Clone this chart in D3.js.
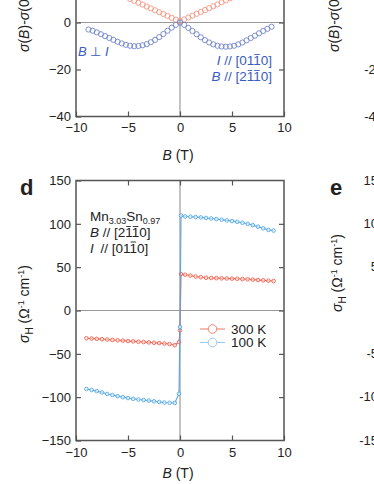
<!DOCTYPE html>
<html>
<head>
<meta charset="utf-8">
<title>Mn3Sn magnetoconductivity and Hall</title>
<script src="https://d3js.org/d3.v7.min.js"></script>
<style>
  body { margin: 0; background: #fff; }
  svg { display: block; font-family: "Liberation Sans", Arial, sans-serif; }
  .axis text { font-size: 13px; fill: #222; }
  .axis line { stroke: #555; stroke-width: 1.2; }
  .axis path { display: none; }
</style>
</head>
<body>
<svg id="chart" width="374" height="484"></svg>
<script>
// ---- panel c (only the lower part is in view): sigma(B)-sigma(0)
const magB = [-8.8,-8.4,-8.0,-7.6,-7.2,-6.8,-6.4,-6.0,-5.6,-5.2,-4.8,-4.4,-4.0,-3.6,-3.2,-2.8,-2.4,-2.0,-1.6,-1.2,-0.8,-0.4,
              0,0.4,0.8,1.2,1.6,2.0,2.4,2.8,3.2,3.6,4.0,4.4,4.8,5.2,5.6,6.0,6.4,6.8,7.2,7.6,8.0,8.4,8.8];
const magPar = [18.5,17.7,16.8,16.0,15.1,14.3,13.4,12.6,11.7,10.9,10.0,9.2,8.4,7.6,6.8,6.0,5.2,4.4,3.6,2.8,2.0,1.2,
                0.6,1.3,2.1,2.9,3.7,4.5,5.3,6.1,6.9,7.7,8.6,9.4,10.3,11.1,12.0,12.8,13.7,14.5,15.4,16.2,17.1,17.9,18.8];
const magPerp = [-3.0,-3.5,-4.2,-5.0,-5.8,-6.6,-7.4,-8.2,-8.9,-9.5,-9.9,-10.1,-10.0,-9.7,-9.2,-8.4,-7.4,-6.2,-4.9,-3.5,-2.2,-1.0,
                 0.0,-1.0,-2.3,-3.6,-5.0,-6.3,-7.5,-8.5,-9.3,-9.9,-10.2,-10.3,-10.2,-9.9,-9.3,-8.5,-7.6,-6.6,-5.6,-4.6,-3.6,-2.7,-1.8];

// ---- panel d: Hall conductivity
const hallB = [-9,-8.5,-8,-7.5,-7,-6.5,-6,-5.5,-5,-4.5,-4,-3.5,-3,-2.5,-2,-1.5,-1,-0.5,-0.1,0,
               0.1,0.5,1,1.5,2,2.5,3,3.5,4,4.5,5,5.5,6,6.5,7,7.5,8,8.5,9];
const hall300 = [-32.0,-32.3,-32.7,-33.1,-33.5,-34.0,-34.4,-34.8,-35.2,-35.6,-36.0,-36.4,-36.8,-37.2,-37.6,-38.1,-38.7,-40.0,-36.5,-23,
                 42,41.3,40.3,39.2,38.4,37.8,37.5,37.3,37.1,37.0,36.8,36.6,36.3,36.0,35.6,35.2,34.8,34.4,34.0];
const hall100 = [-90.5,-91.7,-93.0,-94.6,-96.3,-97.5,-98.8,-100.0,-101.0,-101.9,-102.7,-103.3,-104.0,-104.8,-105.5,-106.2,-106.5,-106.7,-96,-19,
                 109.5,108.5,108.2,107.9,107.4,106.8,106.2,105.5,104.8,104.0,103.2,102.3,101.2,100.0,98.5,96.7,94.8,93.0,92.2];
const hallNames = ['300 K', '100 K'];

const bTicks = [-10, -5, 0, 5, 10];
const magTicks = [-40, -20, 0, 20, 40];
const hallTicks = [-150, -100, -50, 0, 50, 100, 150];
const eTicks = [15, 10, 5, -5, -10, -15];
const cRightTicks = [0, -20, -40];

const svg = d3.select('#chart');
const frameColor = '#555';
const zeroColor = '#9a9a9a';
const red = '#f2604c', blue = '#55a8e4';
const redC = '#f59682', blueC = '#7285cc';
const textBlue = '#3a5cc0';

const x = d3.scaleLinear().domain([-10, 10]).range([76, 284]);
const yMag = d3.scaleLinear().domain([-40, 40]).range([116.5, -71.5]);
const yHall = d3.scaleLinear().domain([-150, 150]).range([440.5, 180.5]);

function panel(y, yt, xPad) {
  const g = svg.append('g');
  const [y0, y1] = y.range();
  // zero lines
  g.append('line').attr('x1', x(0)).attr('x2', x(0)).attr('y1', y0).attr('y2', y1)
    .attr('stroke', zeroColor).attr('stroke-width', 1.2);
  g.append('line').attr('x1', 76).attr('x2', 284).attr('y1', y(0)).attr('y2', y(0))
    .attr('stroke', zeroColor).attr('stroke-width', 1.2);
  // axes, ticks pointing in
  g.append('g').attr('class', 'axis').attr('transform', `translate(0,${y0})`)
    .call(d3.axisBottom(x).tickValues(bTicks).tickSize(-5).tickPadding(xPad).tickFormat(d3.format('d')));
  g.append('g').attr('class', 'axis').attr('transform', `translate(0,${y1})`)
    .call(d3.axisTop(x).tickValues(bTicks.slice(1, -1)).tickSize(-5).tickFormat(''));
  g.append('g').attr('class', 'axis').attr('transform', 'translate(76,0)')
    .call(d3.axisLeft(y).tickValues(yt).tickSize(-5).tickPadding(5).tickFormat(d3.format('d')));
  g.append('g').attr('class', 'axis').attr('transform', 'translate(284,0)')
    .call(d3.axisRight(y).tickValues(yt.slice(1, -1)).tickSize(-5).tickFormat(''));
  g.append('rect').attr('x', 76).attr('y', y1).attr('width', 208).attr('height', y0 - y1)
    .attr('fill', 'none').attr('stroke', frameColor).attr('stroke-width', 1.5);
  return g;
}

// draws a bar over the given characters of a text (Miller index notation)
function overbar(sel, idx) {
  const node = sel.node();
  idx.forEach(i => {
    const b = node.getExtentOfChar(i);
    svg.append('line').attr('x1', b.x + 1).attr('x2', b.x + b.width - 1)
      .attr('y1', b.y + 1.5).attr('y2', b.y + 1.5)
      .attr('stroke', sel.attr('fill')).attr('stroke-width', 0.9);
  });
}

// ---------- panel c ----------
const gc = panel(yMag, magTicks, 6);
gc.selectAll('circle.par').data(magB).join('circle')
  .attr('cx', d => x(d)).attr('cy', (d, i) => yMag(magPar[i])).attr('r', 2.6)
  .attr('fill', 'none').attr('stroke', redC).attr('stroke-width', 0.9);
gc.selectAll('circle.perp').data(magB).join('circle')
  .attr('cx', d => x(d)).attr('cy', (d, i) => yMag(magPerp[i])).attr('r', 2.6)
  .attr('fill', 'none').attr('stroke', blueC).attr('stroke-width', 0.9);

svg.append('text').attr('x', 78).attr('y', 56).attr('fill', textBlue).attr('font-size', 13)
  .html('<tspan font-style="italic">B</tspan> ⊥ <tspan font-style="italic">I</tspan>');
const cI = svg.append('text').attr('x', 272).attr('y', 65).attr('fill', textBlue).attr('font-size', 13.5)
  .attr('text-anchor', 'end')
  .html('<tspan font-style="italic">I</tspan> // [0110]');
overbar(cI, [8]);
const cB = svg.append('text').attr('x', 272).attr('y', 81).attr('fill', textBlue).attr('font-size', 13.5)
  .attr('text-anchor', 'end')
  .html('<tspan font-style="italic">B</tspan> // [2110]');
overbar(cB, [7, 8]);

svg.append('text').attr('x', 178).attr('y', 160).attr('text-anchor', 'middle').attr('font-size', 14).attr('fill', '#222')
  .html('<tspan font-style="italic">B</tspan> (T)');

const magLabel = '<tspan font-style="italic">σ</tspan>(<tspan font-style="italic">B</tspan>)-<tspan font-style="italic">σ</tspan>(0) (Ω<tspan dy="-5" font-size="9">-1</tspan><tspan dy="5"> cm</tspan><tspan dy="-5" font-size="9">-1</tspan><tspan dy="5">)</tspan>';
svg.append('text').attr('transform', 'translate(29,52) rotate(-90)').attr('font-size', 14).attr('fill', '#222')
  .html(magLabel);

// neighbour panel at top right (cut by the edge)
svg.append('text').attr('transform', 'translate(339,52) rotate(-90)').attr('font-size', 14).attr('fill', '#222')
  .html(magLabel);
svg.append('g').selectAll('text').data(cRightTicks).join('text')
  .attr('x', 383).attr('y', d => yMag(d)).attr('dy', '0.32em').attr('text-anchor', 'end')
  .attr('font-size', 13).attr('fill', '#222').text(d => d);

// ---------- panel d ----------
const gd = panel(yHall, hallTicks, 7);
const series = [hall300, hall100];
const colors = [red, blue];
series.forEach((vals, k) => {
  const pts = hallB.map((b, i) => [b, vals[i]]);
  gd.append('path').datum(pts)
    .attr('d', d3.line().x(d => x(d[0])).y(d => yHall(d[1])))
    .attr('fill', 'none').attr('stroke', colors[k]).attr('stroke-width', 1.1);
  gd.selectAll(null).data(pts).join('circle')
    .attr('cx', d => x(d[0])).attr('cy', d => yHall(d[1])).attr('r', 1.8)
    .attr('fill', '#fff').attr('fill-opacity', 0.6).attr('stroke', colors[k]).attr('stroke-width', 0.9);
});

svg.append('text').attr('x', 20).attr('y', 195).attr('font-size', 22).attr('font-weight', 'bold').attr('fill', '#222').text('d');

const note = svg.append('g');
note.append('text').attr('x', 90).attr('y', 221).attr('font-size', 13.5).attr('fill', '#222')
  .html('Mn<tspan dy="3" font-size="9">3.03</tspan><tspan dy="-3">Sn</tspan><tspan dy="3" font-size="9">0.97</tspan>');
const dB = note.append('text').attr('x', 90).attr('y', 237).attr('font-size', 13.5).attr('fill', '#222')
  .html('<tspan font-style="italic">B</tspan> // [2110]');
overbar(dB, [7, 8]);
const dI = note.append('text').attr('x', 90).attr('y', 252.5).attr('font-size', 13.5).attr('fill', '#222')
  .html('<tspan font-style="italic">I</tspan> <tspan dx="3">//</tspan> [0110]');
overbar(dI, [8]);

// legend
const legendColors = ['#f2836f', '#9ccbf0'];
const lg = svg.append('g').selectAll('g').data(hallNames).join('g')
  .attr('transform', (d, i) => `translate(200,${329 + i * 13.5})`);
lg.append('line').attr('x1', 0).attr('x2', 25).attr('stroke', (d, i) => legendColors[i]).attr('stroke-width', 1.1);
lg.append('circle').attr('cx', 12.5).attr('r', 4.3).attr('fill', '#fff').attr('stroke', (d, i) => legendColors[i]).attr('stroke-width', 1);
lg.append('text').attr('x', 31).attr('dy', '0.36em').attr('font-size', 13.5).attr('fill', '#222').text(d => d);

svg.append('text').attr('x', 178).attr('y', 478).attr('text-anchor', 'middle').attr('font-size', 14).attr('fill', '#222')
  .html('<tspan font-style="italic">B</tspan> (T)');

const hallLabel = '<tspan font-style="italic">σ</tspan><tspan dy="4" font-size="10">H</tspan><tspan dy="-4"> (Ω</tspan><tspan dy="-5" font-size="9">-1</tspan><tspan dy="5"> cm</tspan><tspan dy="-5" font-size="9">-1</tspan><tspan dy="5">)</tspan>';
svg.append('text').attr('transform', 'translate(29,343) rotate(-90)').attr('font-size', 14).attr('fill', '#222')
  .html(hallLabel);

// ---------- panel e (cut by the right edge) ----------
svg.append('text').attr('x', 330).attr('y', 195).attr('font-size', 22).attr('font-weight', 'bold').attr('fill', '#222').text('e');
svg.append('text').attr('transform', 'translate(342,312) rotate(-90)').attr('font-size', 14).attr('fill', '#222')
  .html(hallLabel);
const yE = d3.scaleLinear().domain([-15, 15]).range([440.5, 180.5]);
svg.append('g').selectAll('text').data(eTicks).join('text')
  .attr('x', 378).attr('y', d => yE(d)).attr('dy', '0.32em').attr('text-anchor', 'end')
  .attr('font-size', 13).attr('fill', '#222').text(d => d);
</script>
</body>
</html>
